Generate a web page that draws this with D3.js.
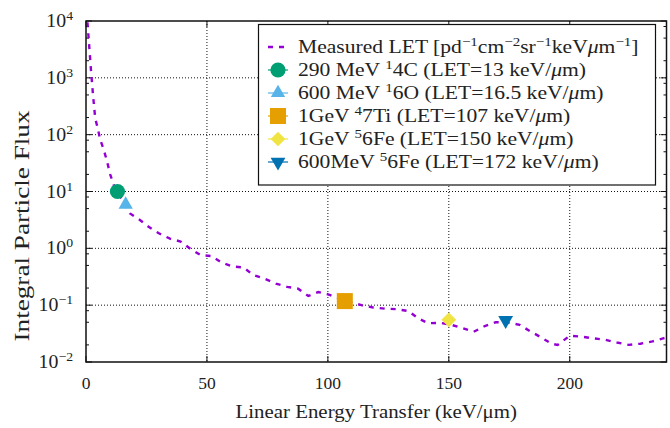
<!DOCTYPE html>
<html><head><meta charset="utf-8">
<script src="https://cdn.jsdelivr.net/npm/d3@7"></script>
<style>
body{margin:0;background:#fff}
svg{display:block}
text{font-family:"Liberation Serif","Times New Roman",serif;fill:#222}
</style>
</head><body>
<svg id="c" width="670" height="428"></svg>
<script>
// ---- data ----
const letX = [0.6,1.4,2.1,2.9,3.8,4.8,5.9,7.3,8.7,10,11.4,13,18.2,22.3,26.2,30.3,34.7,39.1,43,47.4,
  51.9,56.1,60.6,65.2,69.1,74,78.5,83.2,87.7,91.9,96,100.1,107,113.9,118.7,123.6,128.4,133.2,137.3,141.5,
  146.3,151.1,155.9,160.3,164.9,169.4,174,179.3,183.5,187.6,192.4,195,200,204.8,209.9,214.9,219.5,224.5,229.2,234.2,
  238.6,240];
const fluxY = [9500,3300,1290,500,195,132,81,55,34,20,13.2,10,4.1,3.16,2.34,1.82,1.48,1.32,0.99,0.76,
  0.73,0.56,0.48,0.46,0.34,0.29,0.24,0.21,0.195,0.145,0.17,0.155,0.12,0.10,0.091,0.087,0.085,0.079,0.059,0.048,
  0.049,0.045,0.039,0.034,0.043,0.050,0.050,0.045,0.035,0.028,0.021,0.020,0.029,0.028,0.026,0.0245,0.022,0.020,0.021,0.023,
  0.026,0.027];
const ionLET = [13, 16.4, 107, 150, 173.5];
const ionFlux = [10, 5.9, 0.118, 0.0552, 0.054];
const ionShapes = ["circle","triangle","square","diamond","triangleDown"];
const ionColors = ["#009E73","#56B4E9","#E69F00","#F0E442","#0072B2"];
const legendLabels = [
  [["Measured LET [pd"],["−1","sup"],["cm"],["−2","sup"],["sr"],["−1","sup"],["keV"],["μ","it"],["m"],["−1","sup"],["]"]],
  [["290 MeV "],["1","sup"],["4C (LET=13 keV/"],["μ","it"],["m)"]],
  [["600 MeV "],["1","sup"],["6O (LET=16.5 keV/"],["μ","it"],["m)"]],
  [["1GeV "],["4","sup"],["7Ti (LET=107 keV/"],["μ","it"],["m)"]],
  [["1GeV "],["5","sup"],["6Fe (LET=150 keV/"],["μ","it"],["m)"]],
  [["600MeV "],["5","sup"],["6Fe (LET=172 keV/"],["μ","it"],["m)"]]
];
const xTicks = [0,50,100,150,200];
const yTicks = [1e-2,1e-1,1e0,1e1,1e2,1e3,1e4];
const yTickExp = ["−2","−1","0","1","2","3","4"];
const xLabel = "Linear Energy Transfer (keV/μm)";
const yLabel = "Integral Particle Flux";
const lineColor = "#9400D3";

// ---- layout ----
const L = 86, R = 666.5, T = 21, B = 362;
const svg = d3.select("#c");
const x = d3.scaleLinear().domain([0,240]).range([L,R]);
const y = d3.scaleLog().domain([1e-2,1e4]).range([B,T]);

function stext(parent, px, py, sx, size, anchor, rot){
  const g = parent.append("g").attr("transform",`translate(${px},${py})${rot?` rotate(${rot})`:""} scale(${sx},1)`);
  return g.append("text").attr("x",0).attr("y",0).attr("font-size",size).attr("text-anchor",anchor||"start");
}

// grid
const grid = svg.append("g");
yTicks.slice(1,-1).forEach(v=>{
  grid.append("line").attr("x1",L).attr("x2",R).attr("y1",y(v)).attr("y2",y(v))
    .attr("stroke","#111").attr("stroke-width",1).attr("stroke-dasharray","1,2");
});
xTicks.slice(1).forEach(v=>{
  grid.append("line").attr("x1",x(v)).attr("x2",x(v)).attr("y1",T).attr("y2",B)
    .attr("stroke","#111").attr("stroke-width",1).attr("stroke-dasharray","1,2");
});

// axes (ticks inward, mirrored)
const minor = [];
for(let e=-2;e<4;e++){[2,5,8].forEach(m=>minor.push(m*Math.pow(10,e)));}
const axisG = svg.append("g").attr("stroke","#111").attr("stroke-width",1);
yTicks.forEach(v=>{
  axisG.append("line").attr("x1",L).attr("x2",L+6).attr("y1",y(v)).attr("y2",y(v));
  axisG.append("line").attr("x1",R).attr("x2",R-6).attr("y1",y(v)).attr("y2",y(v));
});
minor.forEach(v=>{
  axisG.append("line").attr("x1",L).attr("x2",L+3).attr("y1",y(v)).attr("y2",y(v));
  axisG.append("line").attr("x1",R).attr("x2",R-3).attr("y1",y(v)).attr("y2",y(v));
});
xTicks.forEach(v=>{
  axisG.append("line").attr("x1",x(v)).attr("x2",x(v)).attr("y1",B).attr("y2",B-6);
  axisG.append("line").attr("x1",x(v)).attr("x2",x(v)).attr("y1",T).attr("y2",T+6);
});

// tick labels
xTicks.forEach(v=>{
  stext(svg, x(v), B+27, 1.0, 17.5, "middle").text(v);
});
yTicks.forEach((v,i)=>{
  const t = stext(svg, 73, y(v)+6, 1.1, 18, "end");
  t.append("tspan").text("10");
  t.append("tspan").attr("dy",-7).attr("font-size",12.5).text(yTickExp[i]);
});

// axis labels
stext(svg, (L+R)/2, 418, 1.16, 18, "middle").text(xLabel);
stext(svg, 29, 226, 1.36, 20, "middle", -90).text(yLabel);

// curve
const pts = letX.map((v,i)=>[v,fluxY[i]]);
svg.append("clipPath").attr("id","pc").append("rect").attr("x",L).attr("y",T).attr("width",R-L).attr("height",B-T);
svg.append("path").attr("clip-path","url(#pc)")
  .attr("d", d3.line().x(d=>x(d[0])).y(d=>y(d[1]))(pts))
  .attr("fill","none").attr("stroke",lineColor).attr("stroke-width",2.4).attr("stroke-dasharray","5,6");

// markers
function marker(g, shape, color){
  if(shape==="circle") g.append("circle").attr("r",7.6).attr("fill",color);
  else if(shape==="square") g.append("rect").attr("x",-8).attr("y",-8).attr("width",16).attr("height",16).attr("fill",color);
  else if(shape==="diamond") g.append("rect").attr("x",-5.2).attr("y",-5.2).attr("width",10.4).attr("height",10.4).attr("transform","rotate(45)").attr("fill",color);
  else if(shape==="triangle") g.append("path").attr("d",d3.symbol().type(d3.symbolTriangle).size(88)()).attr("fill",color);
  else if(shape==="triangleDown") g.append("path").attr("d",d3.symbol().type(d3.symbolTriangle).size(95)()).attr("transform","rotate(180)").attr("fill",color);
}
ionLET.forEach((v,i)=>{
  const g = svg.append("g").attr("transform",`translate(${x(v)},${y(ionFlux[i])})`);
  marker(g, ionShapes[i], ionColors[i]);
});

// legend
const lg = svg.append("g");
lg.append("rect").attr("x",258.5).attr("y",24.5).attr("width",397).attr("height",160.5)
  .attr("fill","#fff").attr("stroke","#111").attr("stroke-width",1.2);
legendLabels.forEach((segs,i)=>{
  const cy = 47 + i*23;
  if(i===0){
    lg.append("line").attr("x1",268).attr("x2",286).attr("y1",cy).attr("y2",cy)
      .attr("stroke",lineColor).attr("stroke-width",2.4).attr("stroke-dasharray","5,6");
  } else {
    const c = ionColors[i-1];
    lg.append("line").attr("x1",268).attr("x2",288).attr("y1",cy).attr("y2",cy).attr("stroke",c).attr("stroke-width",1.2);
    const g = lg.append("g").attr("transform",`translate(278,${cy})`);
    marker(g, ionShapes[i-1], c);
  }
  const t = stext(lg, 298, cy+6, 1.2, 18, "start");
  let raised = false;
  segs.forEach(s=>{
    const sp = t.append("tspan").text(s[0]);
    if(s[1]==="sup"){ sp.attr("font-size",12.5).attr("dy",-7); raised = true; }
    else { if(raised){ sp.attr("dy",7); raised=false; } if(s[1]==="it") sp.attr("font-style","italic"); }
  });
});

// frame
svg.append("rect").attr("x",L).attr("y",T).attr("width",R-L).attr("height",B-T)
  .attr("fill","none").attr("stroke","#111").attr("stroke-width",1.5);
</script>
</body></html>
